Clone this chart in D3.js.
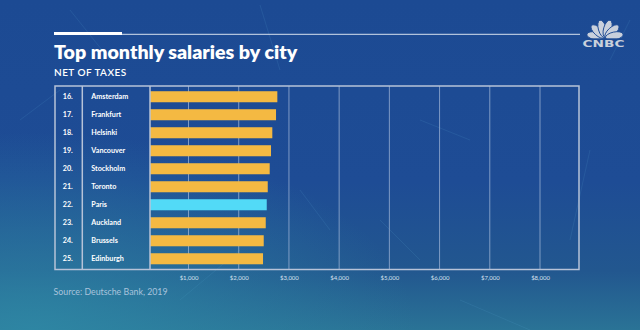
<!DOCTYPE html>
<html><head><meta charset="utf-8">
<script src="https://cdn.jsdelivr.net/npm/d3@7"></script>
<style>html,body{margin:0;padding:0;background:#1d4a92;}svg{display:block;}</style>
</head><body>
<script>
const ranks = ["16.","17.","18.","19.","20.","21.","22.","23.","24.","25."];
const cities = ["Amsterdam","Frankfurt","Helsinki","Vancouver","Stockholm","Toronto","Paris","Auckland","Brussels","Edinburgh"];
const salaries = [2769,2743,2669,2643,2617,2578,2558,2538,2498,2484];
const highlight = "Paris";
const tickValues = [1000,2000,3000,4000,5000,6000,7000,8000];
const tickLabels = ["$1,000","$2,000","$3,000","$4,000","$5,000","$6,000","$7,000","$8,000"];

(function(){
const W = 640, H = 330;
const font = "Lato, 'Open Sans', sans-serif";
const svg = d3.select("body").append("svg").attr("width", W).attr("height", H);
const defs = svg.append("defs");

const bg = defs.append("linearGradient").attr("id","bg").attr("x1",0).attr("y1",0).attr("x2",0).attr("y2",1);
bg.append("stop").attr("offset","0%").attr("stop-color","#1c4a93");
bg.append("stop").attr("offset","55%").attr("stop-color","#1e4c95");
bg.append("stop").attr("offset","82%").attr("stop-color","#22578f");
bg.append("stop").attr("offset","100%").attr("stop-color","#2a7396");
const rg = defs.append("radialGradient").attr("id","rg").attr("cx",0.05).attr("cy",1).attr("r",0.6);
rg.append("stop").attr("offset","0%").attr("stop-color","#2f8aa6").attr("stop-opacity",0.8);
rg.append("stop").attr("offset","100%").attr("stop-color","#2f8aa6").attr("stop-opacity",0);
svg.append("rect").attr("width",W).attr("height",H).attr("fill","url(#bg)");
svg.append("rect").attr("width",W).attr("height",H).attr("fill","url(#rg)");

const scratch = svg.append("g").attr("stroke","#5aa8d8").attr("stroke-opacity",0.18).attr("stroke-width",0.8);
[[70,10,110,60],[260,5,280,70],[300,190,330,230],[420,120,470,140],[590,150,570,240],[180,300,240,250],[460,300,530,330],[20,120,60,90],[610,60,630,20],[380,220,420,260]].forEach(s=>{
  scratch.append("line").attr("x1",s[0]).attr("y1",s[1]).attr("x2",s[2]).attr("y2",s[3]);
});

svg.append("line").attr("x1",122).attr("x2",580).attr("y1",34.3).attr("y2",34.3).attr("stroke","#d7e0ee").attr("stroke-width",1);
svg.append("rect").attr("x",54).attr("y",32).attr("width",68).attr("height",3).attr("fill","#ffffff");

svg.append("text").attr("x",54).attr("y",58.5).text("Top monthly salaries by city")
  .attr("font-family",font).attr("font-weight",800).attr("font-size",19.6).attr("fill","#ffffff");
svg.append("text").attr("x",54).attr("y",75.5).text("NET OF TAXES")
  .attr("font-family",font).attr("font-weight",600).attr("font-size",10).attr("letter-spacing",0.45).attr("fill","#ffffff");

// CNBC logo
const logo = svg.append("g").attr("transform","translate(605,38)").attr("fill","#c9d0dc")
  .attr("stroke","#1d4a93").attr("stroke-width",0.9);
[-78,-47,-16,16,47,78].forEach(a=>{
  logo.append("ellipse").attr("cx",0).attr("cy",-9.5).attr("rx",4).attr("ry",9)
    .attr("transform",`rotate(${a})`);
});
logo.append("rect").attr("x",-22).attr("y",0.3).attr("width",44).attr("height",3).attr("fill","#1d4a93").attr("stroke","none");
svg.append("text").attr("x",582.5).attr("y",47).text("CNBC")
  .attr("font-family","'DejaVu Sans', sans-serif").attr("font-weight",700).attr("font-size",8.5)
  .attr("textLength",42).attr("lengthAdjust","spacingAndGlyphs")
  .attr("fill","#c9d0dc");

const fLeft = 55, fRight = 579, fTop = 86, fBottom = 269.5;
const colRank = 82.3, colPlot = 150;
const x = d3.scaleLinear().domain([0, 8000]).range([138.3, 540]);
const y = d3.scaleBand().domain(cities).range([fTop, fBottom]).paddingInner(0.387).paddingOuter(0.29);

const lineCol = "#b7c3d8";
svg.append("g").selectAll("line").data(tickValues).join("line")
  .attr("x1",d=>x(d)).attr("x2",d=>x(d)).attr("y1",fTop).attr("y2",fBottom)
  .attr("stroke","#9fb4d6").attr("stroke-opacity",0.75).attr("stroke-width",1);

defs.append("clipPath").attr("id","plotclip").append("rect")
  .attr("x",colPlot).attr("y",fTop).attr("width",fRight-colPlot).attr("height",fBottom-fTop);

svg.append("g").attr("clip-path","url(#plotclip)").selectAll("rect").data(cities).join("rect")
  .attr("x",x(0)).attr("y",d=>y(d)).attr("height",y.bandwidth())
  .attr("width",(d,i)=>x(salaries[i])-x(0))
  .attr("fill",d=>d===highlight?"#52daf7":"#f4b942");

const fr = svg.append("g").attr("stroke",lineCol).attr("stroke-width",1.5).attr("fill","none");
fr.append("rect").attr("x",fLeft).attr("y",fTop).attr("width",fRight-fLeft).attr("height",fBottom-fTop);
fr.append("line").attr("x1",colRank).attr("x2",colRank).attr("y1",fTop).attr("y2",fBottom);
fr.append("line").attr("x1",colPlot).attr("x2",colPlot).attr("y1",fTop).attr("y2",fBottom);

svg.append("g").selectAll("text").data(ranks).join("text")
  .attr("x",72.8).attr("y",(d,i)=>y(cities[i])+y.bandwidth()/2).attr("dy","0.35em")
  .attr("text-anchor","end").text(d=>d)
  .attr("font-family",font).attr("font-weight",700).attr("font-size",7.2).attr("fill","#ffffff");
svg.append("g").selectAll("text").data(cities).join("text")
  .attr("x",91.3).attr("y",d=>y(d)+y.bandwidth()/2).attr("dy","0.35em")
  .text(d=>d)
  .attr("font-family",font).attr("font-weight",700).attr("font-size",7.2).attr("fill","#ffffff");

const axis = d3.axisBottom(x).tickValues(tickValues).tickSize(0).tickPadding(6)
  .tickFormat((d,i)=>tickLabels[i]);
const ax = svg.append("g").attr("transform",`translate(0,${fBottom})`).call(axis);
ax.select(".domain").remove();
ax.selectAll("text").attr("font-family",font).attr("font-size",6).attr("fill","#d8e2ef");

svg.append("text").attr("x",53.5).attr("y",295).text("Source: Deutsche Bank, 2019")
  .attr("font-family",font).attr("font-size",8.8).attr("fill","#a9c3dc");
})();
</script>
</body></html>
